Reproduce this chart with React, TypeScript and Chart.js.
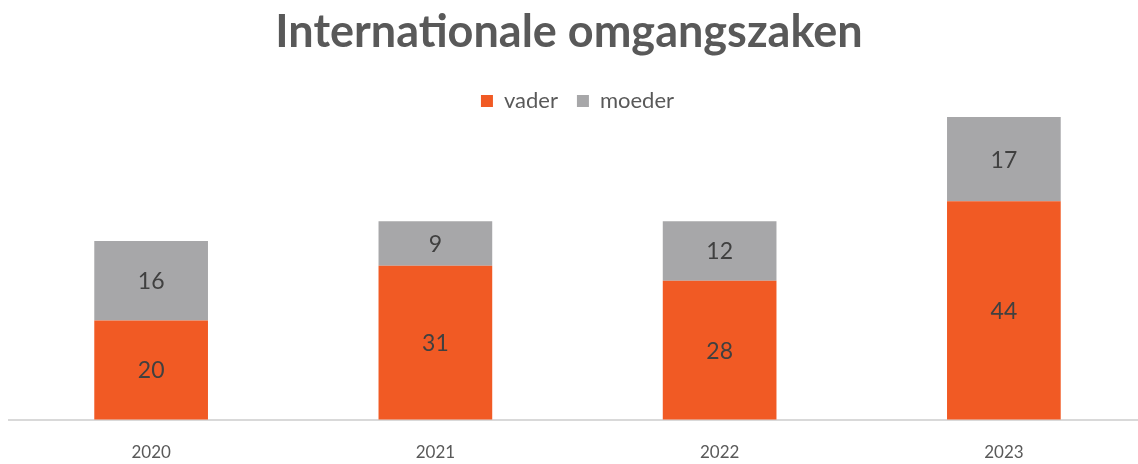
import React, { useEffect, useRef } from "react";
import { Chart, registerables } from "chart.js";

Chart.register(...registerables);

const categories = ["2020", "2021", "2022", "2023"];
const vaderValues = [20, 31, 28, 44];
const moederValues = [16, 9, 12, 17];
const seriesNames = ["vader", "moeder"];
const titleText = "Internationale omgangszaken";

const dataLabelPlugin = {
  id: "dataLabels",
  afterDatasetsDraw(chart: any) {
    const ctx = chart.ctx;
    ctx.save();
    ctx.font = "23px Lato";
    ctx.fillStyle = "#404040";
    ctx.textAlign = "center";
    ctx.textBaseline = "middle";
    chart.data.datasets.forEach((ds: any, di: number) => {
      const meta = chart.getDatasetMeta(di);
      meta.data.forEach((el: any, i: number) => {
        const y = (el.y + el.base) / 2;
        ctx.fillText(String(ds.data[i]), el.x, y + 1);
      });
    });
    ctx.restore();
  },
};

const titlePlugin = {
  id: "centeredTitle",
  afterDraw(chart: any) {
    const ctx = chart.ctx;
    ctx.save();
    ctx.font = "bold 45px Lato";
    ctx.fillStyle = "#595959";
    ctx.textAlign = "center";
    ctx.textBaseline = "middle";
    ctx.fillText(titleText, 569, 32);
    ctx.restore();
  },
};

export default function App() {
  const ref = useRef<HTMLCanvasElement>(null);
  useEffect(() => {
    document.body.style.margin = "0";
    const chart = new Chart(ref.current!, {
      type: "bar",
      data: {
        labels: categories,
        datasets: [
          { label: seriesNames[0], data: vaderValues, backgroundColor: "#F15A24", clip: false } as any,
          { label: seriesNames[1], data: moederValues, backgroundColor: "#A7A7A9", clip: false } as any,
        ],
      },
      options: {
        animation: false,
        responsive: false,
        layout: { padding: { left: 9, right: 0, top: 71, bottom: -22 } },
        datasets: { bar: { categoryPercentage: 1, barPercentage: 0.4 } } as any,
        scales: {
          x: {
            stacked: true,
            grid: { display: false, drawTicks: false },
            border: { display: true, color: "#D9D9D9", width: 2 },
            ticks: { color: "#595959", font: { family: "Lato", size: 17 }, padding: 23 },
          },
          y: {
            stacked: true,
            display: false,
            min: 0,
            max: 60,
          },
        },
        plugins: {
          title: { display: false },
          legend: {
            display: true,
            labels: {
              color: "#595959",
              font: { family: "Lato", size: 22 },
              boxWidth: 12,
              boxHeight: 12,
              padding: 19,
            },
          },
          tooltip: { enabled: false },
        },
      },
      plugins: [dataLabelPlugin, titlePlugin],
    });
    return () => chart.destroy();
  }, []);
  return (
    <div style={{ position: "absolute", left: 0, top: 0, width: 1138, height: 464, overflow: "hidden" }}>
      <canvas ref={ref} width={1146} height={464} />
    </div>
  );
}
